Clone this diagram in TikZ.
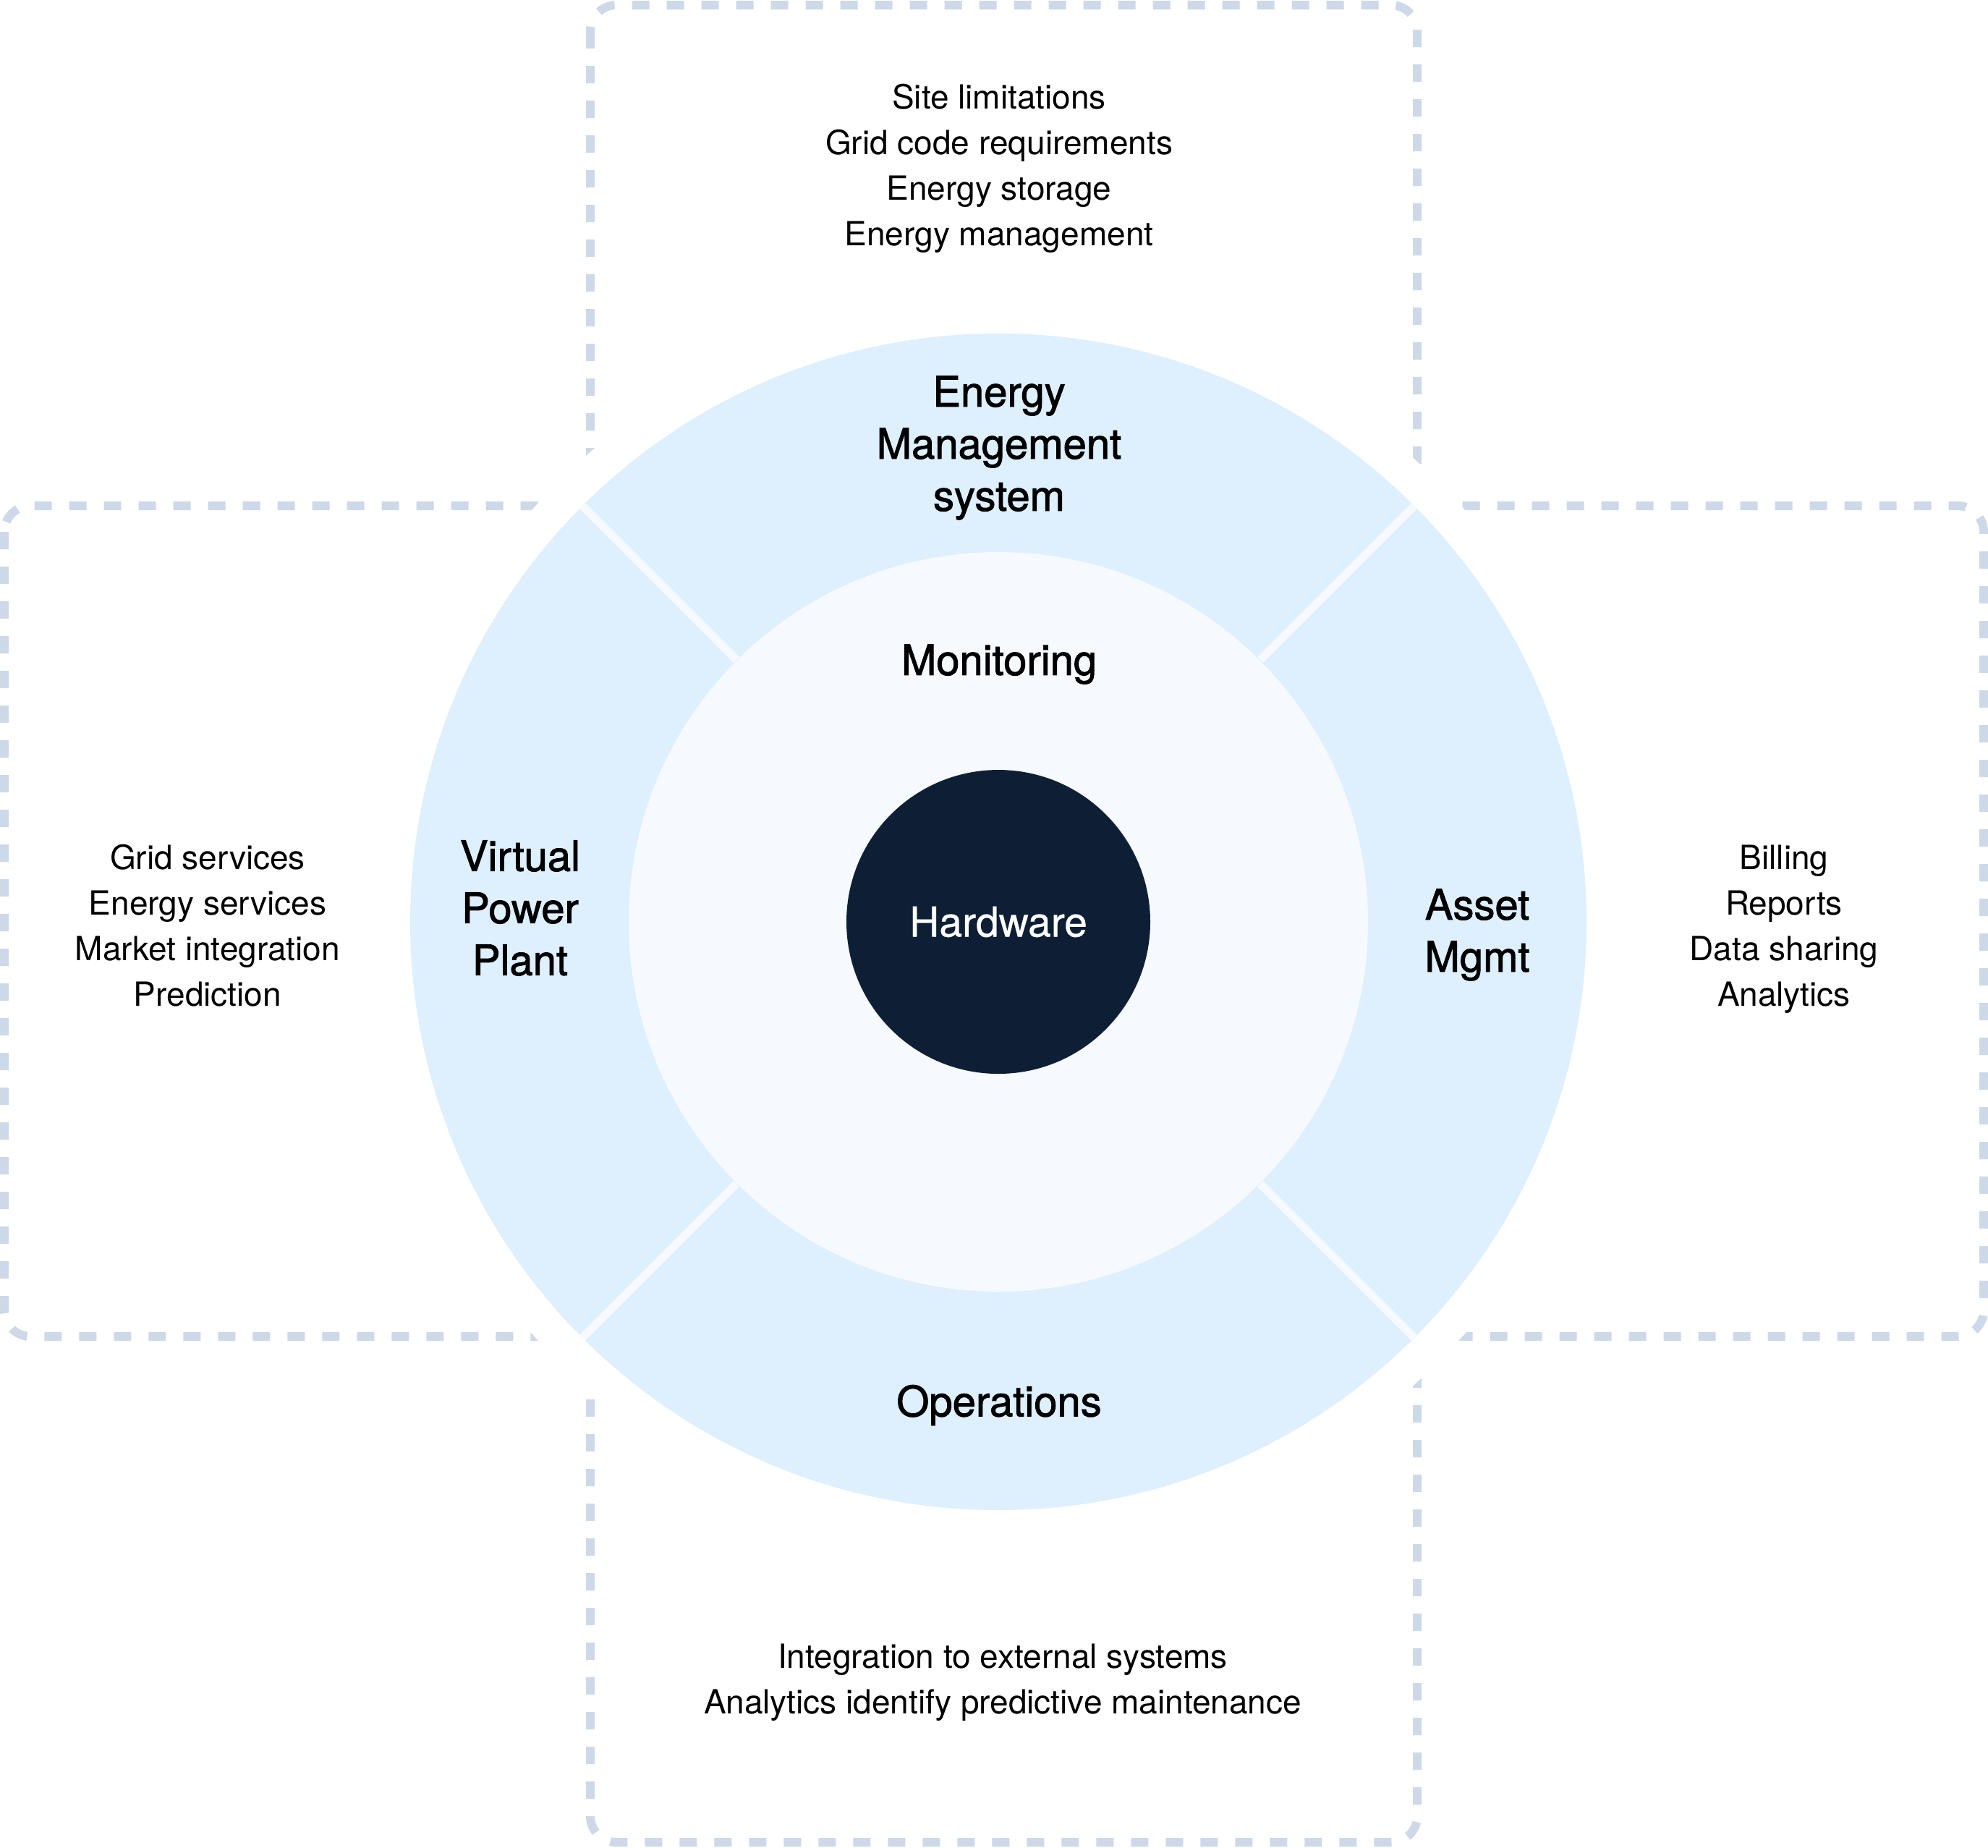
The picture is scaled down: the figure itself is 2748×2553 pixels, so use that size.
\documentclass[tikz,border=0pt]{standalone}
\usepackage{fontspec}
\setmainfont{TeX Gyre Heros}
\newfontfamily\medfont{TeX Gyre Heros}[FakeBold=1.6]
\newfontfamily\hwfont{TeX Gyre Heros}[FakeBold=0.6]
\definecolor{ringc}{HTML}{DEEFFD}
\definecolor{innerc}{HTML}{F6FAFE}
\definecolor{darkc}{HTML}{0E1F35}
\definecolor{dashc}{HTML}{CDD9E9}
\tikzset{
  dbox/.style={draw=dashc, line width=3pt, dash pattern=on 6pt off 6pt, rounded corners=9pt},
  listtxt/.style={align=center, inner sep=0pt, font=\fontsize{11.5}{15.75}\selectfont},
  lbl/.style={align=center, inner sep=0pt, font=\medfont\fontsize{14.5}{18}\selectfont},
  sepline/.style={draw=innerc, line width=2.8pt},
  disc/.style={circle, inner sep=0pt, draw=none}
}
\begin{document}
\begin{tikzpicture}[x=0.25pt,y=-0.25pt]
\useasboundingbox (0,0) rectangle (2748,2553);
\fill[white] (0,0) rectangle (2748,2553);
\coordinate (c) at (1380,1274);
% dashed boxes
\draw[dbox] (816,7) rectangle (1959,1274);
\draw[dbox] (6,699) rectangle (1380,1847);
\draw[dbox] (1380,699) rectangle (2742,1847);
\draw[dbox] (816,1274) rectangle (1959,2546);
% halo and rings
\node[disc, fill=white, minimum size=430pt] (halo) at (c) {};
\node[disc, fill=ringc, minimum size=406.5pt] (outer) at (c) {};
\node[disc, fill=innerc, minimum size=255.5pt] (inner) at (c) {};
\foreach \a in {45,135,225,315}{
  \draw[sepline] (inner.\a) -- (outer.\a);
}
\node[disc, fill=darkc, minimum size=105pt, text=white, font=\hwfont\fontsize{14.25}{18}\selectfont] (hw) at (c) {Hardware};
% labels
\node[lbl] (ems) at (1381,619) {Energy\\Management\\system};
\node[lbl] (mon) at (1381,918) {Monitoring};
\node[lbl] (ops) at (1381,1942) {Operations};
\node[lbl] (vpp) at (719,1255) {Virtual\\Power\\Plant};
\node[lbl] (asset) at (2042,1292) {Asset\\Mgmt};
% lists
\node[listtxt] (toplist) at (1381,232.5) {Site limitations\\Grid code requirements\\Energy storage\\Energy management};
\node[listtxt] (leftlist) at (287,1279.5) {Grid services\\Energy services\\Market integration\\Prediction};
\node[listtxt] (rightlist) at (2466,1284.5) {Billing\\Reports\\Data sharing\\Analytics};
\node[listtxt] (botlist) at (1386,2325.5) {Integration to external systems\\Analytics identify predictive maintenance};
\end{tikzpicture}
\end{document}
